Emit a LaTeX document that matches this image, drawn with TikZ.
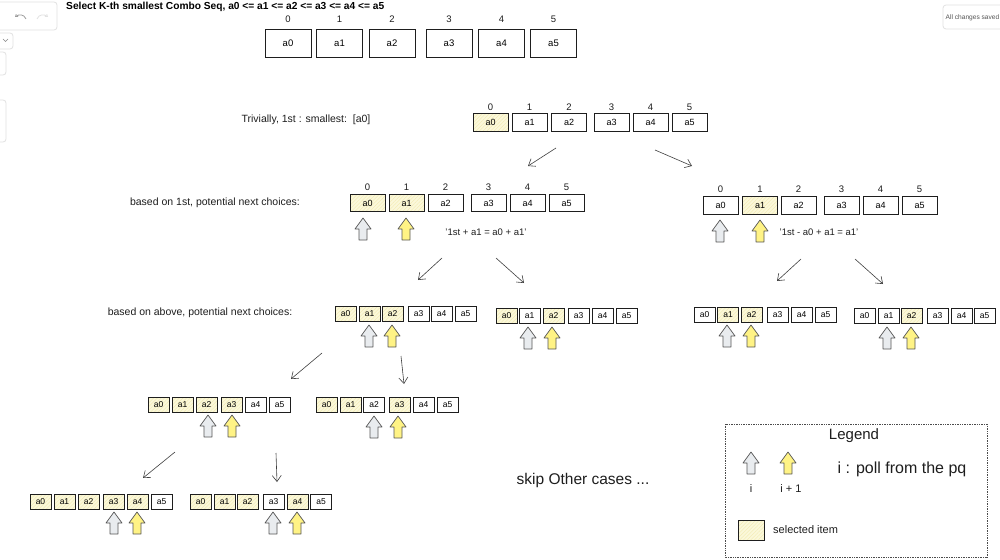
\documentclass[tikz,border=0pt]{standalone}
\usepackage{fontspec}
\setmainfont{Liberation Sans}
\usetikzlibrary{arrows.meta,patterns.meta}
\definecolor{selfill}{HTML}{FBF8DA}
\definecolor{hatch}{HTML}{F2EAAE}
\definecolor{ink}{HTML}{1E1E1E}
\definecolor{garrow}{HTML}{E9ECEF}
\definecolor{yarrow}{HTML}{FFF385}
\definecolor{uiline}{HTML}{E2E2E2}
\definecolor{uitext}{HTML}{555555}
\tikzset{
 bigbox/.style={draw=ink, line width=0.9pt, minimum width=46pt, minimum height=28pt, inner sep=0pt, font=\fontsize{9.5}{9.5}\selectfont},
 midbox/.style={draw=ink, line width=0.9pt, minimum width=35pt, minimum height=17.5pt, inner sep=0pt, font=\fontsize{9}{9}\selectfont},
 smallbox/.style={draw=ink, line width=0.9pt, minimum width=21pt, minimum height=15pt, inner sep=0pt, font=\fontsize{8.5}{8.5}\selectfont},
 sel/.style={fill=selfill, postaction={pattern={Lines[angle=45,distance=2.6pt,line width=0.35pt]}, pattern color=hatch}, postaction={draw=ink, line width=0.9pt}},
 plain/.style={fill=white},
 idx/.style={font=\fontsize{9.5}{9.5}\selectfont, inner sep=0pt, text=ink},
 note/.style={font=\fontsize{10.5}{10.5}\selectfont, inner sep=0pt, text=ink},
 eqnote/.style={font=\fontsize{9.5}{9.5}\selectfont, inner sep=0pt, text=ink},
 bignote/.style={font=\fontsize{15.5}{15.5}\selectfont, inner sep=0pt, text=ink},
 flow/.style={draw=ink!85, line width=0.6pt, -{Straight Barb[length=6pt,width=9pt]}},
 blockup/.style={draw=ink!75, line width=0.7pt, line join=round},
 uibox/.style={draw=uiline, line width=0.8pt, fill=white, rounded corners=3pt},
}
\newcommand\boxrow[4]{\foreach \i/\xx/\ff in {#4}{\node[#3,\ff] (#1\i) at (\xx,#2) {a\i};}}
\newcommand\idxrow[3]{\foreach \i/\xx in {#3}{\node[idx] (#1l\i) at (\xx,#2) {\i};}}
\newcommand\uparr[4]{\coordinate (#1) at (#2,#3);
 \draw[blockup, fill=#4] (#2,#3) -- ++(8,11) -- ++(-4,0) -- ++(0,11) -- ++(-8,0) -- ++(0,-11) -- ++(-4,0) -- cycle;}
\begin{document}
\begin{tikzpicture}[x=1pt,y=-1pt]
\clip (0,0) rectangle (1000,559);
\fill[white] (0,0) rectangle (1000,559);

% UI overlay
\draw[uibox] (-10,2) rectangle (57,30);
\draw[uiline!70!black, line width=0.8pt, -{Straight Barb[length=2pt,width=3pt]}] (26,19) .. controls (24,14) and (19,14) .. (15,17);
\draw[uiline, line width=0.8pt, -{Straight Barb[length=2pt,width=3pt]}] (37,19) .. controls (39,14) and (44,14) .. (48,17);
\draw[uibox] (-10,33) rectangle (13,49);
\draw[uiline!60!black, line width=0.6pt] (3,39) -- (5.5,41.5) -- (8,39);
\draw[uibox] (-10,52) rectangle (6,75);
\draw[uibox] (-10,100) rectangle (6,142);
\draw[uibox] (943,5) rectangle (1012,29);
\node[anchor=west, inner sep=0pt, text=uitext, font=\fontsize{6.6}{6.6}\selectfont] (saved) at (945.5,17.5) {All changes saved};

% title
\node[anchor=west, inner sep=0pt, font=\bfseries\fontsize{10.2}{10.2}\selectfont] (title) at (66,7) {Select K-th smallest Combo Seq, a0 <= a1 <= a2 <= a3 <= a4 <= a5};

% top array
\idxrow{T}{19}{0/288,1/339.5,2/392,3/449,4/501.5,5/553.5}
\boxrow{T}{43}{bigbox}{0/288/plain,1/339.5/plain,2/392/plain,3/449/plain,4/501.5/plain,5/553.5/plain}

% trivially row
\node[note] (triv) at (306,120) {Trivially, 1st : smallest:\ \ [a0]};
\idxrow{R}{107}{0/490.5,1/529.5,2/569,3/611.5,4/650.5,5/689.5}
\boxrow{R}{122.5}{midbox}{0/490.5/sel,1/529.5/plain,2/569/plain,3/611.5/plain,4/650.5/plain,5/689.5/plain}

\coordinate (c1s) at (556,148); \coordinate (c1e) at (528,166);
\coordinate (c2s) at (655,150); \coordinate (c2e) at (692,166);
\draw[flow] (c1s) -- (c1e);
\draw[flow] (c2s) -- (c2e);

% level 3 left
\node[note] (based1) at (215,203) {based on 1st, potential next choices:};
\idxrow{L}{187}{0/367.5,1/406.5,2/445.5,3/488.5,4/527.5,5/566.5}
\boxrow{L}{203}{midbox}{0/367.5/sel,1/406.5/sel,2/445.5/plain,3/488.5/plain,4/527.5/plain,5/566.5/plain}
\uparr{La}{363}{218}{garrow}
\uparr{Lb}{406}{218}{yarrow}
\node[eqnote] (eqL) at (486,232) {'1st + a1 = a0 + a1'};

% level 3 right
\idxrow{M}{189}{0/720.5,1/760,2/798.5,3/841.5,4/880.5,5/919.5}
\boxrow{M}{205.5}{midbox}{0/720.5/plain,1/760/sel,2/798.5/plain,3/841.5/plain,4/880.5/plain,5/919.5/plain}
\uparr{Ma}{720}{220}{garrow}
\uparr{Mb}{760}{220}{yarrow}
\node[eqnote] (eqR) at (819,232) {'1st - a0 + a1 = a1'};

\coordinate (c3s) at (442,258); \coordinate (c3e) at (418,280);
\coordinate (c4s) at (496,258); \coordinate (c4e) at (524,283);
\coordinate (c5s) at (801,259); \coordinate (c5e) at (777,281);
\coordinate (c6s) at (855,259); \coordinate (c6e) at (883,284);
\draw[flow] (c3s) -- (c3e);
\draw[flow] (c4s) -- (c4e);
\draw[flow] (c5s) -- (c5e);
\draw[flow] (c6s) -- (c6e);

% level 4
\node[note] (based2) at (200,313) {based on above, potential next choices:};
\boxrow{A}{313.5}{smallbox}{0/345.5/sel,1/369.5/sel,2/392.5/sel,3/418.5/plain,4/441.5/plain,5/465.5/plain}
\uparr{Aa}{369}{325}{garrow}
\uparr{Ab}{392}{325}{yarrow}
\boxrow{B}{315.5}{smallbox}{0/506.5/sel,1/529.5/plain,2/553.5/sel,3/578.5/plain,4/602.5/plain,5/626.5/plain}
\uparr{Ba}{528}{327}{garrow}
\uparr{Bb}{552}{327}{yarrow}
\boxrow{C}{314.5}{smallbox}{0/704.5/plain,1/728/sel,2/751.5/sel,3/777.5/plain,4/801.5/plain,5/825.5/plain}
\uparr{Ca}{727}{325}{garrow}
\uparr{Cb}{751}{325}{yarrow}
\boxrow{D}{315.5}{smallbox}{0/864.5/plain,1/888.5/plain,2/911.5/sel,3/937.5/plain,4/961.5/plain,5/984.5/plain}
\uparr{Da}{887}{327}{garrow}
\uparr{Db}{911}{327}{yarrow}

\coordinate (c7s) at (322,353); \coordinate (c7e) at (291,379);
\coordinate (c8s) at (401,356); \coordinate (c8e) at (404,384);
\draw[flow] (c7s) -- (c7e);
\draw[flow] (c8s) -- (c8e);

% level 5
\boxrow{E}{405}{smallbox}{0/158.5/sel,1/182.5/sel,2/206.5/sel,3/231.5/sel,4/255.5/plain,5/279.5/plain}
\uparr{Ea}{208}{415}{garrow}
\uparr{Eb}{232}{415}{yarrow}
\boxrow{F}{405}{smallbox}{0/326.5/sel,1/350.5/sel,2/374/plain,3/399.5/sel,4/423.5/plain,5/447.5/plain}
\uparr{Fa}{374}{416}{garrow}
\uparr{Fb}{398}{416}{yarrow}

\coordinate (c9s) at (175,452); \coordinate (c9e) at (143,478);
\coordinate (c10s) at (276,453); \coordinate (c10e) at (277,482);
\draw[flow] (c9s) -- (c9e);
\draw[flow] (c10s) -- (c10e);

% level 6
\boxrow{G}{502}{smallbox}{0/40.5/sel,1/64.5/sel,2/88.5/sel,3/113.5/sel,4/137.5/sel,5/161.5/plain}
\uparr{Ga}{114}{512}{garrow}
\uparr{Gb}{137}{512}{yarrow}
\boxrow{H}{502}{smallbox}{0/200.5/sel,1/224.5/sel,2/247.5/sel,3/273.5/plain,4/297.5/sel,5/321/plain}
\uparr{Ha}{273}{512}{garrow}
\uparr{Hb}{297}{512}{yarrow}

\node[bignote] (skip) at (583,480) {skip Other cases ...};

% legend
\draw[ink!80, line width=0.7pt, densely dotted] (725,424) rectangle (987,557);
\node[bignote, font=\fontsize{15}{15}\selectfont] (legend) at (854,436) {Legend};
\uparr{LGa}{751}{452}{garrow}
\uparr{LGb}{788}{452}{yarrow}
\node[note, font=\fontsize{11}{11}\selectfont] (li) at (751,489) {i};
\node[note, font=\fontsize{11}{11}\selectfont] (li1) at (791,489) {i + 1};
\node[bignote, font=\fontsize{16}{16}\selectfont] (poll) at (902,469) {i : poll from the pq};
\node[draw=ink, line width=0.9pt, sel, minimum width=26pt, minimum height=20pt, inner sep=0pt] (lsel) at (751,530) {};
\node[note, anchor=west, font=\fontsize{11}{11}\selectfont] (lseltext) at (773,530) {selected item};
\end{tikzpicture}
\end{document}
